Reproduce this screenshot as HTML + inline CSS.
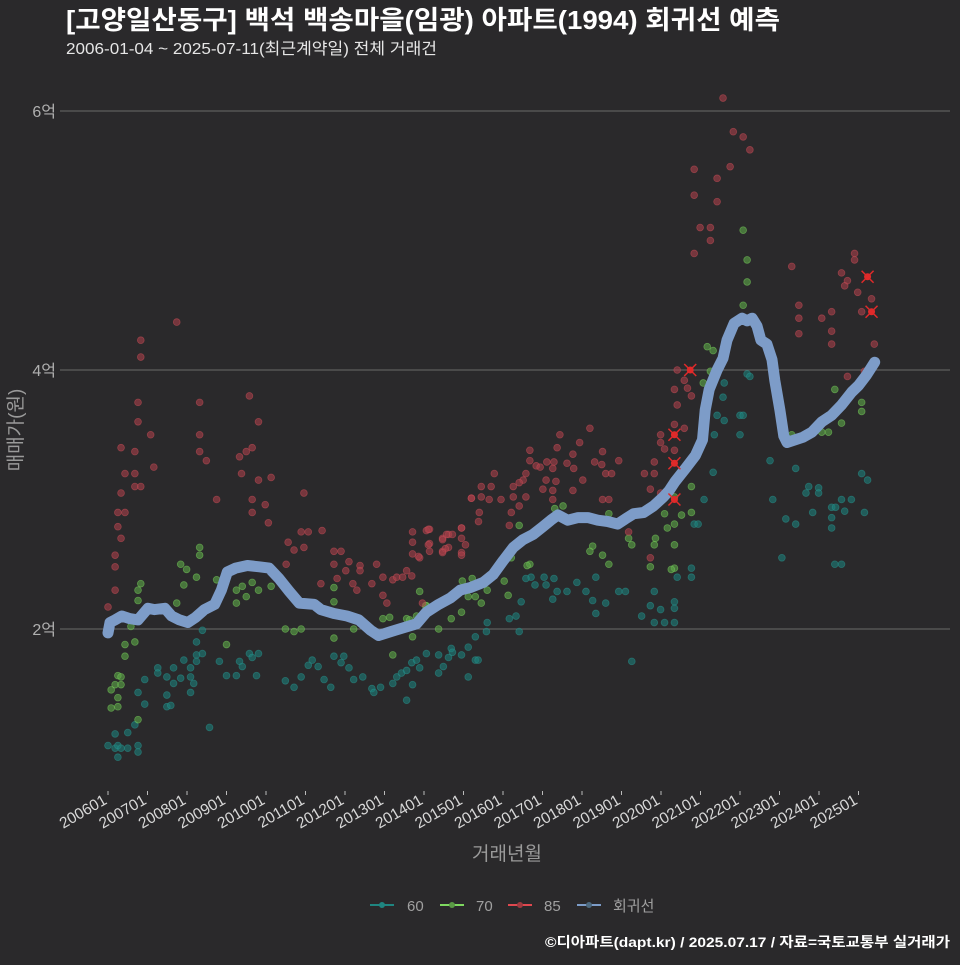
<!DOCTYPE html>
<html><head><meta charset="utf-8">
<style>
body{margin:0;background:#2a292b;width:960px;height:960px;overflow:hidden;font-family:"Liberation Sans","Noto Sans CJK KR",sans-serif;}
svg text{font-family:"Liberation Sans","Noto Sans CJK KR",sans-serif;}
</style></head><body>
<svg id="chart" width="960" height="960" xmlns="http://www.w3.org/2000/svg">
<rect width="960" height="960" fill="#2a292b"/>
<text x="66" y="29" fill="#ffffff" font-size="26" font-weight="bold" textLength="714" lengthAdjust="spacingAndGlyphs">[고양일산동구] 백석 백송마을(임광) 아파트(1994) 회귀선 예측</text>
<text x="66" y="54" fill="#e6e6e6" font-size="16" textLength="371" lengthAdjust="spacingAndGlyphs">2006-01-04 ~ 2025-07-11(최근계약일) 전체 거래건</text>
<g id="grid"></g><g id="pts"></g><g id="line"></g><g id="xax"></g>
<text transform="translate(22,430) rotate(-90)" text-anchor="middle" fill="#9a9a9a" font-size="19">매매가(원)</text>
<text x="507" y="860" text-anchor="middle" fill="#9a9a9a" font-size="19">거래년월</text>
<g font-size="15" fill="#a0a0a0">
<g><line x1="370" y1="905" x2="394" y2="905" stroke="#1f8580" stroke-width="2"/><circle cx="382" cy="905" r="3" fill="#1f8580"/><text x="407" y="911">60</text></g>
<g><line x1="440" y1="905" x2="464" y2="905" stroke="#7ed860" stroke-width="2"/><circle cx="452" cy="905" r="3" fill="#5a9a45"/><text x="476" y="911">70</text></g>
<g><line x1="508" y1="905" x2="532" y2="905" stroke="#e0484f" stroke-width="2"/><circle cx="520" cy="905" r="3" fill="#a03a40"/><text x="544" y="911">85</text></g>
<g><line x1="577" y1="905" x2="601" y2="905" stroke="#7c9cc8" stroke-width="2"/><circle cx="589" cy="905" r="3" fill="#4d6a80"/><text x="613" y="911">회귀선</text></g>
</g>
<text x="950" y="947" text-anchor="end" fill="#ffffff" font-size="14" font-weight="bold" textLength="405" lengthAdjust="spacingAndGlyphs">©디아파트(dapt.kr) / 2025.07.17 / 자료=국토교통부 실거래가</text>
</svg>
<script>
const yTicks=[2,4,6];
const yTickLabels=["2억","4억","6억"];
const xTickYears=[2006,2007,2008,2009,2010,2011,2012,2013,2014,2015,2016,2017,2018,2019,2020,2021,2022,2023,2024,2025];
const xTickLabels=["200601","200701","200801","200901","201001","201101","201201","201301","201401","201501","201601","201701","201801","201901","202001","202101","202201","202301","202401","202501"];
const regT=[2006.00,2006.05,2006.18,2006.35,2006.55,2006.76,2007.01,2007.18,2007.44,2007.61,2007.81,2008.02,2008.22,2008.44,2008.70,2008.87,2009.02,2009.23,2009.53,2009.83,2010.08,2010.33,2010.59,2010.84,2011.22,2011.39,2011.72,2012.05,2012.35,2012.65,2012.85,2013.16,2013.48,2013.81,2014.06,2014.37,2014.67,2014.92,2015.17,2015.50,2015.75,2016.01,2016.26,2016.51,2016.76,2017.01,2017.21,2017.39,2017.64,2017.90,2018.15,2018.40,2018.65,2018.90,2019.10,2019.31,2019.56,2019.81,2020.06,2020.21,2020.36,2020.62,2020.87,2021.05,2021.12,2021.22,2021.42,2021.57,2021.67,2021.85,2022.05,2022.18,2022.31,2022.43,2022.53,2022.68,2022.81,2022.88,2023.01,2023.11,2023.19,2023.39,2023.59,2023.82,2024.07,2024.32,2024.57,2024.83,2025.00,2025.20,2025.41];
const regP=[1.97,2.05,2.07,2.10,2.08,2.07,2.16,2.15,2.16,2.10,2.07,2.05,2.09,2.15,2.19,2.30,2.44,2.47,2.49,2.48,2.47,2.39,2.29,2.20,2.19,2.15,2.12,2.10,2.07,1.99,1.95,1.98,2.01,2.04,2.13,2.19,2.24,2.30,2.32,2.36,2.42,2.53,2.63,2.69,2.73,2.79,2.84,2.88,2.84,2.86,2.86,2.84,2.83,2.81,2.85,2.89,2.90,2.95,3.02,3.07,3.14,3.24,3.34,3.46,3.69,3.85,4.00,4.09,4.23,4.36,4.40,4.38,4.40,4.34,4.23,4.20,4.08,3.92,3.69,3.49,3.44,3.46,3.48,3.52,3.60,3.65,3.73,3.83,3.88,3.96,4.06];
const red85=[[2007.74,4.37],[2006.83,4.23],[2006.83,4.10],[2006.76,3.75],[2008.32,3.75],[2009.58,3.80],[2006.76,3.60],[2007.08,3.50],[2009.81,3.60],[2008.32,3.50],[2006.33,3.40],[2006.68,3.37],[2008.32,3.37],[2009.65,3.40],[2009.50,3.37],[2009.33,3.33],[2008.49,3.30],[2007.16,3.25],[2006.43,3.20],[2006.68,3.20],[2009.38,3.20],[2010.13,3.17],[2009.81,3.15],[2006.68,3.10],[2006.83,3.10],[2006.33,3.05],[2008.75,3.00],[2009.65,3.00],[2010.96,3.05],[2009.98,2.96],[2006.25,2.90],[2006.43,2.90],[2009.65,2.90],[2010.06,2.82],[2006.25,2.79],[2006.33,2.70],[2010.89,2.75],[2011.07,2.75],[2011.42,2.76],[2010.56,2.67],[2010.71,2.61],[2010.96,2.63],[2006.18,2.57],[2006.18,2.48],[2010.51,2.50],[2011.72,2.60],[2011.90,2.60],[2011.72,2.50],[2012.10,2.52],[2012.38,2.49],[2011.80,2.39],[2012.02,2.45],[2011.39,2.35],[2012.20,2.35],[2012.30,2.30],[2012.80,2.50],[2012.38,2.45],[2006.18,2.30],[2006.00,2.17],[2012.68,2.35],[2012.96,2.40],[2012.96,2.26],[2013.06,2.20],[2013.21,2.38],[2013.31,2.40],[2013.46,2.40],[2013.56,2.45],[2013.69,2.41],[2013.71,2.75],[2013.71,2.67],[2013.71,2.58],[2013.89,2.55],[2014.06,2.76],[2014.14,2.77],[2014.14,2.66],[2014.14,2.60],[2014.47,2.70],[2014.47,2.60],[2014.62,2.73],[2014.62,2.63],[2014.95,2.78],[2014.95,2.70],[2014.95,2.59],[2015.20,3.01],[2013.96,2.20],
[2021.57,6.10],[2021.83,5.84],[2022.08,5.80],[2022.25,5.70],[2020.84,5.55],[2021.75,5.57],[2021.42,5.48],[2020.84,5.35],[2021.42,5.30],[2020.99,5.10],[2021.25,5.10],[2021.25,5.00],[2020.84,4.90],[2023.31,4.80],[2024.90,4.90],[2024.90,4.85],[2024.57,4.75],[2024.72,4.69],[2024.65,4.65],[2024.98,4.60],[2025.33,4.55],[2025.08,4.45],[2025.40,4.20],[2023.49,4.50],[2023.49,4.40],[2023.49,4.28],[2024.07,4.40],[2024.32,4.45],[2024.32,4.30],[2024.32,4.20],[2024.72,3.95],[2025.15,3.99],[2020.41,4.00],[2020.59,3.92],[2020.67,3.86],[2020.77,3.80],[2020.34,3.85],[2020.41,3.73],[2020.34,3.58],[2020.59,3.55],[2019.99,3.50],[2019.99,3.44],[2020.09,3.39],[2020.34,3.38],[2019.83,3.29],[2019.58,3.20],[2019.83,3.20],[2019.73,3.08],[2019.99,3.05],[2018.20,3.55],[2017.94,3.44],[2017.44,3.50],[2017.37,3.40],[2016.68,3.38],[2017.77,3.35],[2018.52,3.37],[2018.93,3.30],[2018.32,3.29],[2017.62,3.28],[2017.11,3.29],[2017.29,3.29],[2016.68,3.30],[2016.84,3.26],[2016.94,3.25],[2017.26,3.24],[2017.79,3.24],[2018.50,3.27],[2018.60,3.20],[2018.75,3.20],[2015.78,3.20],[2016.58,3.20],[2016.51,3.15],[2017.09,3.15],[2017.34,3.14],[2018.02,3.15],[2015.45,3.10],[2015.70,3.10],[2016.26,3.10],[2016.41,3.13],[2017.01,3.08],[2017.26,3.07],[2017.77,3.07],[2015.45,3.02],[2015.20,3.01],[2015.65,3.00],[2015.95,3.00],[2016.26,3.02],[2016.58,3.02],[2017.26,3.00],[2018.52,3.00],[2018.68,3.00],[2015.40,2.90],[2016.21,2.90],[2016.41,2.95],[2014.95,2.78],[2014.72,2.73],[2014.11,2.77],[2014.57,2.73],[2014.47,2.69],[2015.05,2.65],[2014.11,2.65],[2014.54,2.62],[2014.47,2.59],[2014.95,2.57],[2013.86,2.56],[2016.16,2.80],[2015.38,2.83],[2019.73,2.55],[2019.18,2.75]];
const green70=[[2008.32,2.63],[2008.32,2.57],[2007.84,2.50],[2007.99,2.46],[2008.24,2.40],[2008.75,2.38],[2006.83,2.35],[2006.76,2.30],[2006.76,2.22],[2007.92,2.34],[2007.74,2.20],[2009.25,2.30],[2009.40,2.33],[2009.65,2.36],[2009.81,2.30],[2009.50,2.25],[2009.25,2.20],[2010.13,2.33],[2011.72,2.32],[2011.72,2.21],[2010.49,2.00],[2010.71,1.98],[2010.89,2.00],[2011.72,1.93],[2012.22,2.00],[2006.58,2.02],[2006.43,1.88],[2006.68,1.90],[2006.43,1.79],[2006.25,1.64],[2006.33,1.63],[2006.18,1.57],[2006.33,1.57],[2006.08,1.53],[2006.25,1.47],[2006.08,1.39],[2006.25,1.40],[2006.76,1.30],[2009.00,1.88],[2013.21,1.80],[2012.96,2.08],[2013.13,2.09],[2013.56,2.08],[2013.64,2.07],[2013.81,2.10],[2013.71,1.94],[2013.89,2.29],[2014.06,2.18],[2014.37,2.00],[2014.69,2.08],[2014.95,2.13],[2015.30,2.25],[2022.08,5.08],[2022.18,4.85],[2022.18,4.68],[2022.08,4.50],[2021.17,4.18],[2021.32,4.15],[2021.25,3.99],[2021.07,3.90],[2023.31,3.50],[2024.40,3.85],[2024.24,3.52],[2024.07,3.52],[2024.57,3.59],[2025.08,3.75],[2025.08,3.68],[2020.77,3.10],[2020.34,3.02],[2020.09,2.89],[2020.52,2.88],[2020.34,2.81],[2020.16,2.78],[2020.77,2.90],[2019.86,2.70],[2019.83,2.65],[2020.34,2.65],[2020.34,2.47],[2020.26,2.46],[2019.73,2.48],[2018.68,2.89],[2019.18,2.70],[2019.26,2.65],[2018.27,2.64],[2018.20,2.60],[2018.52,2.57],[2018.68,2.50],[2016.68,2.50],[2016.61,2.49],[2016.21,2.55],[2016.03,2.37],[2015.22,2.39],[2014.97,2.37],[2015.60,2.30],[2016.13,2.26],[2015.45,2.20],[2015.12,2.25],[2014.04,2.18],[2017.52,2.95],[2017.31,2.93],[2016.41,2.80]];
const teal60=[[2008.39,1.99],[2008.24,1.90],[2008.24,1.80],[2008.24,1.75],[2008.39,1.81],[2007.92,1.76],[2008.09,1.70],[2008.09,1.63],[2008.17,1.58],[2008.09,1.51],[2007.66,1.70],[2007.84,1.62],[2007.66,1.58],[2007.49,1.63],[2007.26,1.70],[2007.26,1.66],[2007.49,1.49],[2007.49,1.40],[2007.59,1.41],[2006.93,1.61],[2006.93,1.42],[2006.76,1.51],[2006.68,1.26],[2006.50,1.20],[2006.18,1.19],[2006.00,1.10],[2006.18,1.08],[2006.25,1.10],[2006.33,1.08],[2006.25,1.01],[2006.50,1.08],[2006.76,1.10],[2006.76,1.05],[2008.57,1.24],[2008.82,1.75],[2009.00,1.64],[2009.25,1.64],[2009.33,1.75],[2009.40,1.71],[2009.58,1.81],[2009.65,1.78],[2009.81,1.81],[2009.76,1.64],[2010.49,1.60],[2010.71,1.55],[2010.89,1.63],[2011.07,1.72],[2011.17,1.76],[2011.32,1.71],[2011.47,1.61],[2011.64,1.55],[2011.72,1.79],[2011.90,1.74],[2011.97,1.79],[2012.10,1.70],[2012.22,1.61],[2012.45,1.63],[2012.68,1.54],[2012.90,1.55],[2012.73,1.51],[2013.21,1.58],[2013.31,1.63],[2013.43,1.66],[2013.56,1.68],[2013.69,1.74],[2013.56,1.45],[2013.71,1.57],[2013.81,1.76],[2013.89,1.70],[2014.06,1.81],[2014.37,1.80],[2014.37,1.66],[2014.62,1.78],[2014.69,1.85],[2014.95,1.80],[2015.12,1.63],[2015.12,1.86],[2015.30,1.94],[2015.30,1.76],[2014.72,1.82],[2014.49,1.71],[2015.37,1.76],[2015.58,1.98],[2015.60,2.05],[2016.16,2.08],[2016.33,2.10],[2016.41,1.98],[2016.46,2.21],[2016.71,2.40],[2016.58,2.39],[2016.81,2.34],[2017.04,2.40],[2017.09,2.34],[2017.29,2.39],[2017.37,2.29],[2017.26,2.23],[2017.62,2.29],[2017.87,2.36],[2018.10,2.29],[2018.35,2.40],[2018.27,2.22],[2018.35,2.12],[2018.60,2.20],[2018.93,2.29],[2019.10,2.29],[2019.26,1.75],[2019.51,2.10],[2019.73,2.18],[2019.83,2.29],[2019.83,2.05],[2019.99,2.15],[2020.09,2.05],[2020.34,2.21],[2020.34,2.16],[2020.34,2.05],[2020.41,2.40],[2020.77,2.47],[2020.77,2.40],[2020.84,2.81],[2020.94,2.81],[2021.09,3.00],[2021.32,3.21],[2021.35,3.50],[2021.60,3.61],[2021.57,3.79],[2021.60,3.90],[2021.42,3.65],[2022.00,3.65],[2022.08,3.65],[2022.00,3.50],[2022.18,3.97],[2022.25,3.95],[2022.76,3.30],[2022.83,3.00],[2023.06,2.55],[2023.16,2.85],[2023.41,2.81],[2023.41,3.24],[2023.67,3.05],[2023.74,3.10],[2023.84,2.90],[2023.99,3.09],[2023.99,3.05],[2024.32,2.94],[2024.32,2.86],[2024.32,2.78],[2024.42,2.94],[2024.57,3.00],[2024.65,2.91],[2024.82,3.00],[2024.40,2.50],[2024.57,2.50],[2025.08,3.20],[2025.23,3.15],[2025.15,2.90]];
const highlightX=[[2020.74,4.00],[2020.34,3.50],[2020.34,3.28],[2020.34,3.00],[2025.23,4.72],[2025.33,4.45]];

const NS="http://www.w3.org/2000/svg";
function sx(t){return 108+(t-2006)*39.5;}
function sy(p){return 629-(p-2)*129.5;}
function mk(tag,attrs,parent){const e=document.createElementNS(NS,tag);for(const k in attrs)e.setAttribute(k,attrs[k]);parent.appendChild(e);return e;}
const grid=document.getElementById('grid');
yTicks.forEach((v,i)=>{
  const l=mk('line',{x1:60,x2:950,y1:sy(v),y2:sy(v),stroke:'#6a6a6a','stroke-width':1},grid);
  
  
  const tx=mk('text',{x:56,y:sy(v)+6,'text-anchor':'end',fill:'#b0b0b0','font-size':16},grid);
  tx.textContent=yTickLabels[i];
  
  
});
const xax=document.getElementById('xax');
xTickYears.forEach((yr,i)=>{
  const x=sx(yr);
  const tk=mk('line',{x1:x,x2:x,y1:791,y2:795,stroke:'#bbbbbb','stroke-width':1},xax);
  
  
  const tx=mk('text',{x:x,y:803,'text-anchor':'end',fill:'#d8d8d8','font-size':15.5,transform:'rotate(-30 '+x+' 803)'},xax);
  tx.textContent=xTickLabels[i];
  
  
});
const pts=document.getElementById('pts');
function drawSeries(arr,fill,stroke,name){
  arr.forEach(d=>{
    const c=mk('circle',{cx:sx(d[0]),cy:sy(d[1]),r:3.4,fill:fill,'fill-opacity':0.6,stroke:stroke,'stroke-opacity':0.5,'stroke-width':0.8},pts);
    
    
  });
}
drawSeries(teal60,'#1d7f7a','#2a9a94','point-60');
drawSeries(green70,'#5ea848','#7ed860','point-70');
drawSeries(red85,'#a8404a','#d0505a','point-85');
const line=document.getElementById('line');
let dpath='';
regT.forEach((t,i)=>{dpath+=(i?'L':'M')+sx(t).toFixed(1)+' '+sy(regP[i]).toFixed(1);});
const rl=mk('path',{d:dpath,fill:'none',stroke:'#7d9cc8','stroke-width':11,'stroke-linejoin':'round','stroke-linecap':'round'},line);


highlightX.forEach(d=>{
  const x=sx(d[0]),y=sy(d[1]);
  const g=mk('g',{},line);
  
  
  mk('circle',{cx:x,cy:y,r:3.5,fill:'#e02a2a'},g);
  mk('path',{d:`M${x-6} ${y-6}L${x+6} ${y+6}M${x-6} ${y+6}L${x+6} ${y-6}`,stroke:'#e02a2a','stroke-width':1.5},g);
});
</script>
</body></html>
